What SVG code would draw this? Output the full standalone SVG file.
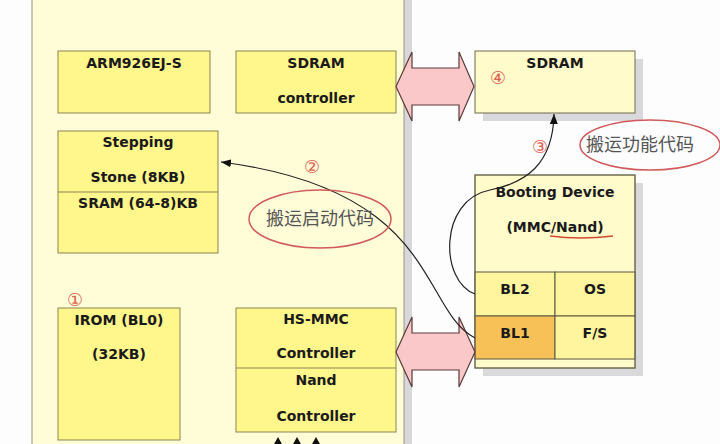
<svg xmlns="http://www.w3.org/2000/svg" width="720" height="444" viewBox="0 0 720 444">
<defs>
<style>
.lbl{font-family:"DejaVu Sans",Verdana,sans-serif;font-weight:bold;font-size:14px;fill:#1a1a1a;text-anchor:middle}
.box{fill:#FFF68C;stroke:#8a8550;stroke-width:1}
.rbox{fill:#FFFBCB;stroke:#6e6a50;stroke-width:1}
.cell{fill:#FFF59E;stroke:#5a5640;stroke-width:1}
.shadow{fill:#d9d9db}
.num{font-family:"DejaVu Sans",sans-serif;font-size:18px;fill:#e06050;text-anchor:middle}
.cn{font-family:"Noto Sans CJK SC",sans-serif;font-size:18px;fill:#555;text-anchor:middle}
.oval{fill:none;stroke:#d05a5a;stroke-width:1.5}
.curve{fill:none;stroke:#222;stroke-width:1.2}
.dbl{fill:#FAC8C8;stroke:#5a3a3a;stroke-width:1.2;stroke-linejoin:miter}
</style>
<marker id="ah" viewBox="0 0 10 8" refX="10" refY="4" markerWidth="10" markerHeight="8" markerUnits="userSpaceOnUse" orient="auto">
<path d="M0,0 L10,4 L0,8 Z" fill="#111"/>
</marker>
</defs>
<rect x="0" y="0" width="720" height="444" fill="#fdfdfe"/>
<g id="soc-panel">
<rect x="404" y="-2" width="8" height="448" fill="#d8d8dc"/>
<rect x="32" y="-2" width="372" height="448" fill="#FFFDD8" stroke="#9a9280" stroke-width="1"/>
</g>
<g id="arm">
<rect class="box" x="58" y="51" width="152" height="62"/>
<text class="lbl" x="134" y="68">ARM926EJ-S</text>
</g>
<g id="sdram-controller">
<rect class="box" x="236" y="51" width="160" height="62"/>
<text class="lbl" x="316" y="68">SDRAM</text>
<text class="lbl" x="316" y="103">controller</text>
</g>
<g id="stepping-stone">
<rect class="box" x="58" y="131" width="160" height="122"/>
<line x1="58" y1="192" x2="218" y2="192" stroke="#8a8550"/>
<text class="lbl" x="138" y="147">Stepping</text>
<text class="lbl" x="138" y="182">Stone (8KB)</text>
<text class="lbl" x="138" y="208">SRAM (64-8)KB</text>
</g>
<g id="irom">
<rect class="box" x="58" y="308" width="122" height="132"/>
<text class="lbl" x="119" y="325">IROM (BL0)</text>
<text class="lbl" x="119" y="359">(32KB)</text>
<text class="num" x="75" y="306">①</text>
</g>
<g id="hsmmc-nand">
<rect class="box" x="236" y="308" width="160" height="124"/>
<line x1="236" y1="368" x2="396" y2="368" stroke="#8a8550"/>
<text class="lbl" x="316" y="324">HS-MMC</text>
<text class="lbl" x="316" y="358">Controller</text>
<text class="lbl" x="316" y="385">Nand</text>
<text class="lbl" x="316" y="421">Controller</text>
<path d="M278,437 L282.5,445 L273.5,445 Z M297,437 L301.5,445 L292.5,445 Z M316,437 L320.5,445 L311.5,445 Z" fill="#111"/>
</g>
<g id="sdram">
<rect class="shadow" x="483" y="59" width="160" height="62"/>
<rect class="rbox" x="475" y="51" width="160" height="62"/>
<text class="lbl" x="555" y="68">SDRAM</text>
<text class="num" x="498" y="84">④</text>
</g>
<g id="booting-device">
<rect class="shadow" x="483" y="183" width="160" height="193"/>
<rect class="rbox" x="475" y="175" width="160" height="193"/>
<rect class="cell" x="475" y="272" width="80" height="44"/>
<rect class="cell" x="555" y="272" width="80" height="44"/>
<rect class="cell" x="475" y="316" width="80" height="43" style="fill:#F8C158"/>
<rect class="cell" x="555" y="316" width="80" height="43"/>
<rect x="475" y="175" width="160" height="193" fill="none" stroke="#6e6a50"/>
<text class="lbl" x="555" y="197">Booting Device</text>
<text class="lbl" x="555" y="232">(MMC/Nand)</text>
<path d="M550,236 Q580,240 613,236" fill="none" stroke="#d04a30" stroke-width="1.6"/>
<text class="lbl" x="515" y="294">BL2</text>
<text class="lbl" x="595" y="294">OS</text>
<text class="lbl" x="515" y="338">BL1</text>
<text class="lbl" x="595" y="338">F/S</text>
</g>
<g id="connectors">
<path class="dbl" d="M396,86.5 L412,52 L412,68 L459,68 L459,52 L474,86.5 L459,121 L459,105 L412,105 L412,121 Z"/>
<path class="dbl" d="M396,352 L412,317 L412,333 L459,333 L459,317 L475,352 L459,387 L459,370 L412,370 L412,387 Z"/>
<path class="curve" d="M475,338 C420,310 440,190 221,162" marker-end="url(#ah)"/>
<path class="curve" d="M475,294 C440,282 438,200 490,190 C525,183 553,165 554,114" marker-end="url(#ah)"/>
</g>
<g id="labels">
<text class="num" x="312" y="173">②</text>
<text class="num" x="540" y="153">③</text>
<ellipse class="oval" cx="320" cy="219" rx="71" ry="29"/>
<text class="cn" x="320" y="225">搬运启动代码</text>
<ellipse class="oval" cx="650" cy="145" rx="70" ry="25"/>
<text class="cn" x="640" y="151">搬运功能代码</text>
</g>
</svg>
